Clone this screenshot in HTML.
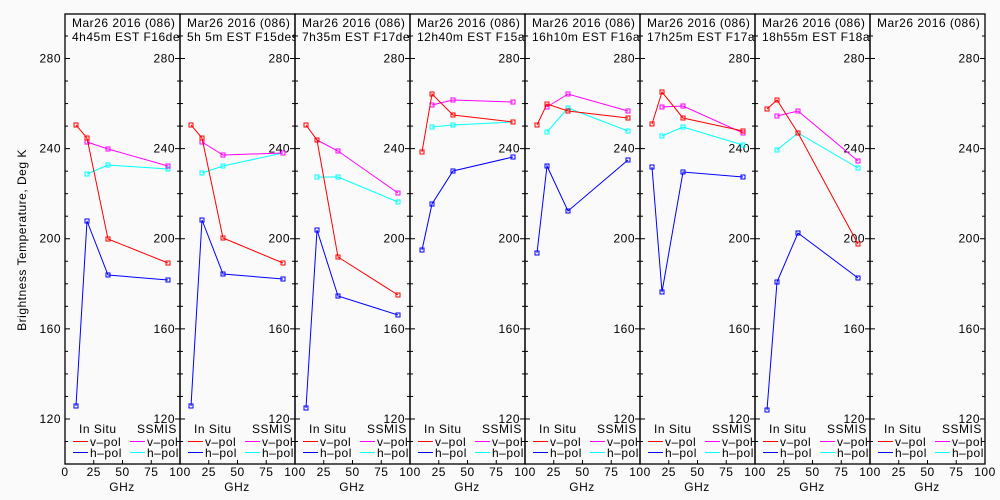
<!DOCTYPE html>
<html><head><meta charset="utf-8"><style>
html,body{margin:0;padding:0;background:#fafafa;}
svg{display:block;}
text{font-family:"Liberation Sans","DejaVu Sans",sans-serif;font-size:12px;fill:#000;letter-spacing:0.5px;}
</style></head><body>
<svg id="s" width="1000" height="500" xmlns="http://www.w3.org/2000/svg">
<rect width="1000" height="500" fill="#fafafa"/>
<text transform="translate(26,240) rotate(-90)" text-anchor="middle" font-size="13">Brightness Temperature, Deg K</text>
<g id="g"></g>
</svg>
<script>
(function(){
const g=document.getElementById('g');
let h='';
const T=14,B=464;
const yOf=v=>58.5+(280-v)*2.253;
const titles=["4h45m EST F16des","5h 5m EST F15des","7h35m EST F17des","12h40m EST F15asc","16h10m EST F16asc","17h25m EST F17asc","18h55m EST F18asc",""];
const data=[
{r:[[76,125],[87,138],[108,239],[168,263]],b:[[76,406],[87,221],[108,275],[168,280]],m:[[87,142],[108,149],[168,166]],c:[[87,174],[108,165],[168,169]]},
{r:[[191,125],[202,138],[223,238],[283,263]],b:[[191,406],[202,220],[223,274],[283,279]],m:[[202,142],[223,155],[283,153]],c:[[202,173],[223,166],[283,153]]},
{r:[[306,125],[317,140],[338,257],[398,295]],b:[[306,408],[317,230],[338,296],[398,315]],m:[[317,140],[338,151],[398,193]],c:[[317,177],[338,177],[398,202]]},
{r:[[422,152],[432,94],[453,115],[513,122]],b:[[422,250],[432,204],[453,171],[513,157]],m:[[432,105],[453,100],[513,102]],c:[[432,127],[453,125],[513,122]]},
{r:[[537,125],[547,104],[568,111],[628,118]],b:[[537,253],[547,166],[568,211],[628,160]],m:[[547,107],[568,94],[628,111]],c:[[547,132],[568,108],[628,131]]},
{r:[[652,124],[662,92],[683,118],[743,131]],b:[[652,167],[662,292],[683,172],[743,177]],m:[[662,107],[683,106],[743,133]],c:[[662,136],[683,127],[743,145]]},
{r:[[767,109],[777,100],[798,133],[858,244]],b:[[767,410],[777,282],[798,233],[858,278]],m:[[777,116],[798,111],[858,161]],c:[[777,150],[798,133],[858,168]]},
null];
const col={r:'#ff0000',b:'#0000ff',m:'#ff00ff',c:'#00ffff'};
for(let i=0;i<8;i++){
 const x0=65+i*115,x1=x0+115;
 h+=`<clipPath id="c${i}"><rect x="${x0}" y="${T}" width="115" height="${B-T}"/></clipPath>`;
 h+=`<rect x="${x0}" y="${T}" width="115" height="${B-T}" fill="none" stroke="#000" stroke-width="1.3"/>`;
 for(let v=110;v<=290;v+=10){const y=yOf(v);if(y<T||y>B)continue;
  const maj=v%40==0;
  h+=`<line x1="${x1-(maj?5:3)}" x2="${x1}" y1="${y}" y2="${y}" stroke="#000"/>`;
  h+=`<line x1="${x0}" x2="${x0+(maj?5:3)}" y1="${y}" y2="${y}" stroke="#000"/>`;
  if(maj)h+=`<text x="${x1-5}" y="${y+4}" text-anchor="end">${v}</text>`;}
 if(i==0){for(let v=120;v<=280;v+=40)h+=`<text x="${x0-4}" y="${yOf(v)+4}" text-anchor="end">${v}</text>`;}
 for(let f=0;f<=100;f+=25){const x=x0+f*1.15;
  h+=`<line x1="${x}" x2="${x}" y1="${B-4}" y2="${B}" stroke="#000"/>`;
  if(f>0||i==0)h+=`<text x="${x}" y="${B+12}" text-anchor="middle">${f}</text>`;}
 h+=`<text x="${x0+57}" y="${B+27}" text-anchor="middle" font-size="14">GHz</text>`;
 h+=`<g clip-path="url(#c${i})"><text x="${x0+7}" y="${T+13}">Mar26 2016 (086)</text><text x="${x0+7}" y="${T+27}">${titles[i]}</text></g>`;
 h+=`<text x="${x0+14}" y="433">In Situ</text><text x="${x0+72}" y="433">SSMIS</text>`;
 h+=`<line x1="${x0+8}" x2="${x0+23}" y1="441.5" y2="441.5" stroke="#f00"/><text x="${x0+25}" y="446">v–pol</text>`;
 h+=`<line x1="${x0+8}" x2="${x0+23}" y1="452.5" y2="452.5" stroke="#00f"/><text x="${x0+25}" y="457">h–pol</text>`;
 h+=`<line x1="${x0+65}" x2="${x0+80}" y1="441.5" y2="441.5" stroke="#f0f"/><text x="${x0+82}" y="446">v–pol</text>`;
 h+=`<line x1="${x0+65}" x2="${x0+80}" y1="452.5" y2="452.5" stroke="#0ff"/><text x="${x0+82}" y="457">h–pol</text>`;
 const d=data[i];
 if(d){for(const k of ['c','m','b','r']){const p=d[k];
  h+=`<polyline points="${p.map(q=>q.join(',')).join(' ')}" fill="none" stroke="${col[k]}" stroke-width="1"/>`;
  for(const q of p)h+=`<rect x="${q[0]-2}" y="${q[1]-2}" width="4" height="4" fill="none" stroke="${col[k]}" stroke-width="1"/>`;}}
}
g.innerHTML=h;
})();
</script>
</body></html>
